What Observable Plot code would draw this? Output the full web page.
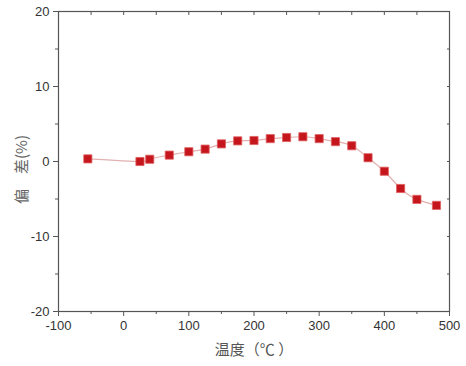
<!DOCTYPE html>
<html>
<head>
<meta charset="utf-8">
<script src="https://cdn.jsdelivr.net/npm/d3@7"></script>
<script src="https://cdn.jsdelivr.net/npm/@observablehq/plot@0.6"></script>
<style>
  html, body { margin: 0; padding: 0; background: #fff; }
</style>
</head>
<body>
<div id="chart"></div>
<script>
const temperature = [-55, 25, 40, 70, 100, 125, 150, 175, 200, 225, 250, 275, 300, 325, 350, 375, 400, 425, 450, 480];
const deviation = [0.35, 0.0, 0.3, 0.85, 1.3, 1.65, 2.35, 2.75, 2.8, 3.05, 3.2, 3.3, 3.05, 2.65, 2.1, 0.5, -1.3, -3.6, -5.05, -5.85];
const xMajor = [-100, 0, 100, 200, 300, 400, 500];
const xMinor = [-50, 50, 150, 250, 350, 450];
const yMajor = [-20, -10, 0, 10, 20];
const yMinor = [-15, -5, 5, 15];
const xLabel = "温度（℃ ）";
const yLabel = "偏\u3000差(%)";

const data = temperature.map((t, i) => ({t, d: deviation[i]}));
const axisColor = "#555";
const tickFont = "Liberation Sans, Arial, sans-serif";
const fmt = d => String(d);

const chart = Plot.plot({
  width: 466,
  height: 366,
  marginLeft: 58,
  marginRight: 17,
  marginTop: 11,
  marginBottom: 55,
  style: {fontFamily: tickFont, background: "#fff"},
  x: {domain: [-100, 500]},
  y: {domain: [-20, 20]},
  marks: [
    Plot.line(data, {x: "t", y: "d", curve: "natural", stroke: "#e3b0b0", strokeWidth: 1.2}),
    Plot.dot(data, {x: "t", y: "d", symbol: "square", r: 4.6, fill: "#c4161c", stroke: "#e06060", strokeWidth: 0.8}),
    Plot.frame({stroke: axisColor, strokeWidth: 1.2}),
    Plot.axisX({ticks: xMajor, tickSize: 5, tickPadding: 4, fontSize: 13, color: "#333", stroke: axisColor, label: null, tickFormat: fmt}),
    Plot.axisX({ticks: xMinor, tickSize: 3, text: null, stroke: axisColor, label: null}),
    Plot.axisX({anchor: "top", ticks: xMajor.concat(xMinor), tickSize: -3, text: null, stroke: axisColor, label: null}),
    Plot.axisY({ticks: yMajor, tickSize: 5, tickPadding: 4, fontSize: 13, color: "#333", stroke: axisColor, label: null, tickFormat: fmt}),
    Plot.axisY({ticks: yMinor, tickSize: 3, text: null, stroke: axisColor, label: null}),
    Plot.axisY({anchor: "right", ticks: yMajor.concat(yMinor), tickSize: -3, text: null, stroke: axisColor, label: null}),
    Plot.text([xLabel], {frameAnchor: "bottom", dy: 43, fontSize: 15, fill: "#555", fontFamily: "Noto Sans CJK SC", textAnchor: "middle"}),
    Plot.text([yLabel], {frameAnchor: "left", dx: -36, dy: 8, rotate: -90, fontSize: 15, fill: "#666", fontFamily: "Noto Sans CJK SC", textAnchor: "middle"})
  ]
});
document.getElementById("chart").appendChild(chart);
</script>
</body>
</html>
